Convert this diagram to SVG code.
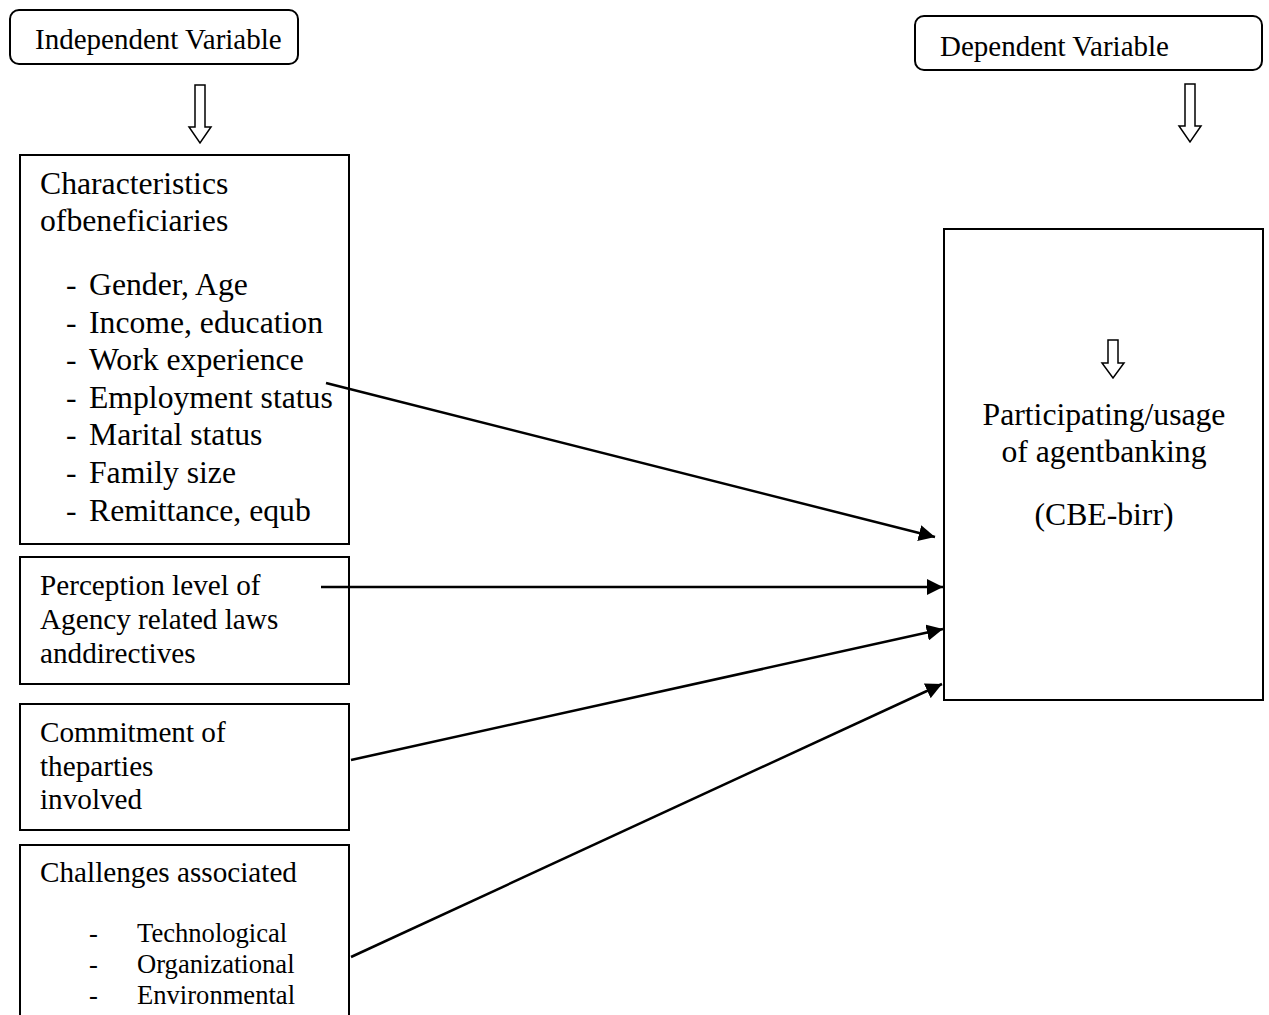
<svg xmlns="http://www.w3.org/2000/svg" width="1269" height="1015" viewBox="0 0 1269 1015">
<defs>
<style>
text{font-family:"Liberation Serif","Times New Roman",serif;fill:#000}
.box{fill:#fff;stroke:#000;stroke-width:2}
.hol{fill:#fff;stroke:#000;stroke-width:1.5}
.con{stroke:#000;stroke-width:2.5;fill:none}
.t32{font-size:31.7px}
.t29{font-size:29.2px}
.th{font-size:29px}
.t26{font-size:26.6px}
</style>
<marker id="ah" viewBox="0 0 10 10" refX="10" refY="5" markerWidth="6.5" markerHeight="6.5" markerUnits="strokeWidth" orient="auto">
<path d="M0,0 L10,5 L0,10 z" fill="#000"/>
</marker>
</defs>
<rect width="1269" height="1015" fill="#fff"/>

<g id="indep-header">
<rect class="box" x="10" y="10" width="288" height="54" rx="9"/>
<text class="th" x="35" y="49">Independent Variable</text>
<path class="hol" d="M195,85 L205,85 L205,127 L211,127 L200,143 L189,127 L195,127 Z"/>
</g>

<g id="dep-header">
<rect class="box" x="915" y="16" width="347" height="54" rx="9"/>
<text class="th" x="940" y="56">Dependent Variable</text>
<path class="hol" d="M1185,84 L1195,84 L1195,126 L1201,126 L1190,142 L1179,126 L1185,126 Z"/>
</g>

<g id="characteristics">
<rect class="box" x="20" y="155" width="329" height="389"/>
<text class="t32" x="40" y="194">Characteristics</text>
<text class="t32" x="40" y="231">ofbeneficiaries</text>
<text class="t32" x="66" y="295">-</text><text class="t32" x="89" y="295">Gender, Age</text>
<text class="t32" x="66" y="333">-</text><text class="t32" x="89" y="333">Income, education</text>
<text class="t32" x="66" y="370">-</text><text class="t32" x="89" y="370">Work experience</text>
<text class="t32" x="66" y="408">-</text><text class="t32" x="89" y="408">Employment status</text>
<text class="t32" x="66" y="445">-</text><text class="t32" x="89" y="445">Marital status</text>
<text class="t32" x="66" y="483">-</text><text class="t32" x="89" y="483">Family size</text>
<text class="t32" x="66" y="521">-</text><text class="t32" x="89" y="521">Remittance, equb</text>
</g>

<g id="perception">
<rect class="box" x="20" y="557" width="329" height="127"/>
<text class="t29" x="40" y="595">Perception level of</text>
<text class="t29" x="40" y="629">Agency related laws</text>
<text class="t29" x="40" y="663">anddirectives</text>
</g>

<g id="commitment">
<rect class="box" x="20" y="704" width="329" height="126"/>
<text class="t29" x="40" y="742">Commitment of</text>
<text class="t29" x="40" y="776">theparties</text>
<text class="t29" x="40" y="809">involved</text>
</g>

<g id="challenges">
<rect class="box" x="20" y="845" width="329" height="180"/>
<text class="t29" x="40" y="882">Challenges associated</text>
<text class="t26" x="89" y="942">-</text><text class="t26" x="137" y="942">Technological</text>
<text class="t26" x="89" y="973">-</text><text class="t26" x="137" y="973">Organizational</text>
<text class="t26" x="89" y="1004">-</text><text class="t26" x="137" y="1004">Environmental</text>
</g>

<g id="participation">
<rect class="box" x="944" y="229" width="319" height="471"/>
<path class="hol" d="M1108,340 L1118,340 L1118,363 L1124,363 L1113,378 L1102,363 L1108,363 Z"/>
<text class="t32" x="1104" y="425" text-anchor="middle">Participating/usage</text>
<text class="t32" x="1104" y="462" text-anchor="middle">of agentbanking</text>
<text class="t32" x="1104" y="525" text-anchor="middle">(CBE-birr)</text>
</g>

<g id="connectors">
<line class="con" x1="326" y1="383" x2="935" y2="537" marker-end="url(#ah)"/>
<line class="con" x1="321" y1="587" x2="943" y2="587" marker-end="url(#ah)"/>
<line class="con" x1="351" y1="760" x2="943" y2="629" marker-end="url(#ah)"/>
<line class="con" x1="351" y1="957" x2="942" y2="684" marker-end="url(#ah)"/>
</g>
</svg>
